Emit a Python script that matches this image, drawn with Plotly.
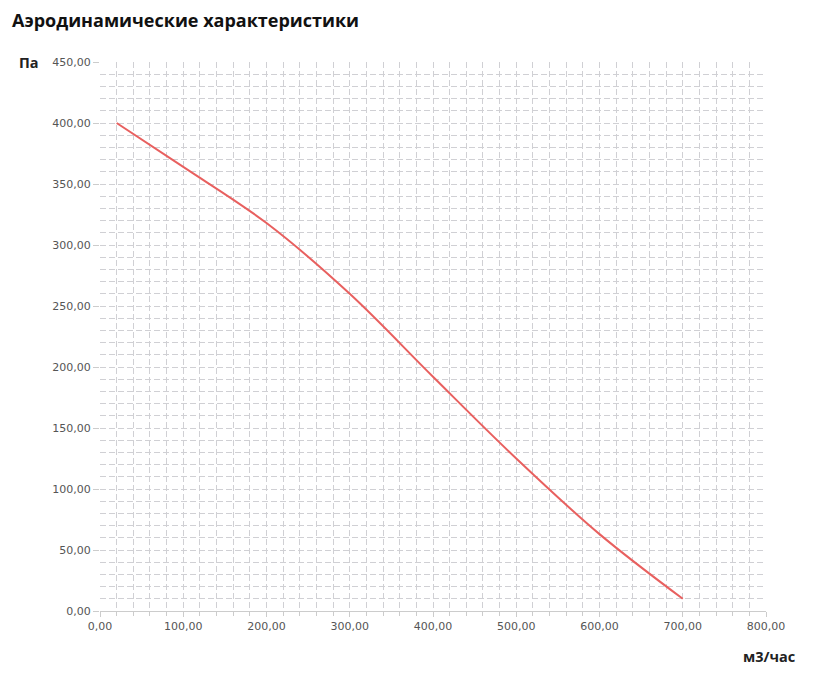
"""Aerodynamic characteristic curve (pressure vs. air flow)."""

import plotly.graph_objects as go

# Air flow, m3/h
flow = [20, 100, 200, 300, 400, 500, 600, 700]
# Static pressure, Pa
pressure = [400, 364, 318, 260, 192, 125, 63, 10]

x_ticks = [0, 100, 200, 300, 400, 500, 600, 700, 800]
y_ticks = [0, 50, 100, 150, 200, 250, 300, 350, 400, 450]

GRID = "#d0d0d4"
DASH = "6px,3px"
TICK_FONT = dict(family="DejaVu Sans, sans-serif", size=11, color="#555555")
LABEL_FONT = dict(family="Open Sans, sans-serif", size=14.5, color="#222222", weight="bold")

fig = go.Figure()

fig.add_trace(
    go.Scatter(
        x=flow,
        y=pressure,
        mode="lines",
        line=dict(color="#e8605f", width=2, shape="spline", smoothing=1),
        showlegend=False,
        hoverinfo="x+y",
    )
)

fig.update_xaxes(
    range=[0, 800],
    tickvals=x_ticks,
    tickformat=".2f",
    tickfont=TICK_FONT,
    showgrid=True,
    gridcolor=GRID,
    griddash=DASH,
    gridwidth=1,
    zeroline=False,
    showline=True,
    linecolor="#cccccc",
    linewidth=1,
    ticks="outside",
    ticklen=5,
    tickcolor="#cccccc",
    automargin=False,
    minor=dict(
        dtick=20,
        showgrid=True,
        gridcolor=GRID,
        griddash=DASH,
        ticks="outside",
        ticklen=4,
        tickcolor="#cccccc",
    ),
)

fig.update_yaxes(
    range=[0, 450],
    tickvals=y_ticks,
    tickformat=".2f",
    tickfont=TICK_FONT,
    showgrid=True,
    gridcolor=GRID,
    griddash=DASH,
    gridwidth=1,
    zeroline=False,
    showline=False,
    ticks="outside",
    ticklen=6,
    tickcolor="#cccccc",
    automargin=False,
    minor=dict(dtick=10, showgrid=True, gridcolor=GRID, griddash=DASH),
)

# axis names sit outside the plot, like the reference
fig.add_annotation(
    text="Па",
    xref="paper",
    yref="paper",
    x=-0.088,
    y=1.0,
    xanchor="right",
    yanchor="middle",
    showarrow=False,
    font=LABEL_FONT,
)
fig.add_annotation(
    text="м3/час",
    xref="paper",
    yref="paper",
    x=1.0465,
    y=-0.083,
    xanchor="right",
    yanchor="middle",
    showarrow=False,
    font=LABEL_FONT,
)

# page body adds 8px, so the figure is a bit smaller than the window
fig.update_layout(
    width=800,
    height=663,
    title=dict(
        text="<b>Аэродинамические характеристики</b>",
        x=0.005,
        xanchor="left",
        y=0.981,
        yanchor="middle",
        font=dict(family="Open Sans, sans-serif", size=18, color="#111111"),
    ),
    separators=", ",
    plot_bgcolor="white",
    paper_bgcolor="white",
    margin=dict(l=92, r=42, t=54, b=60),
)

fig.write_html("out.html")
